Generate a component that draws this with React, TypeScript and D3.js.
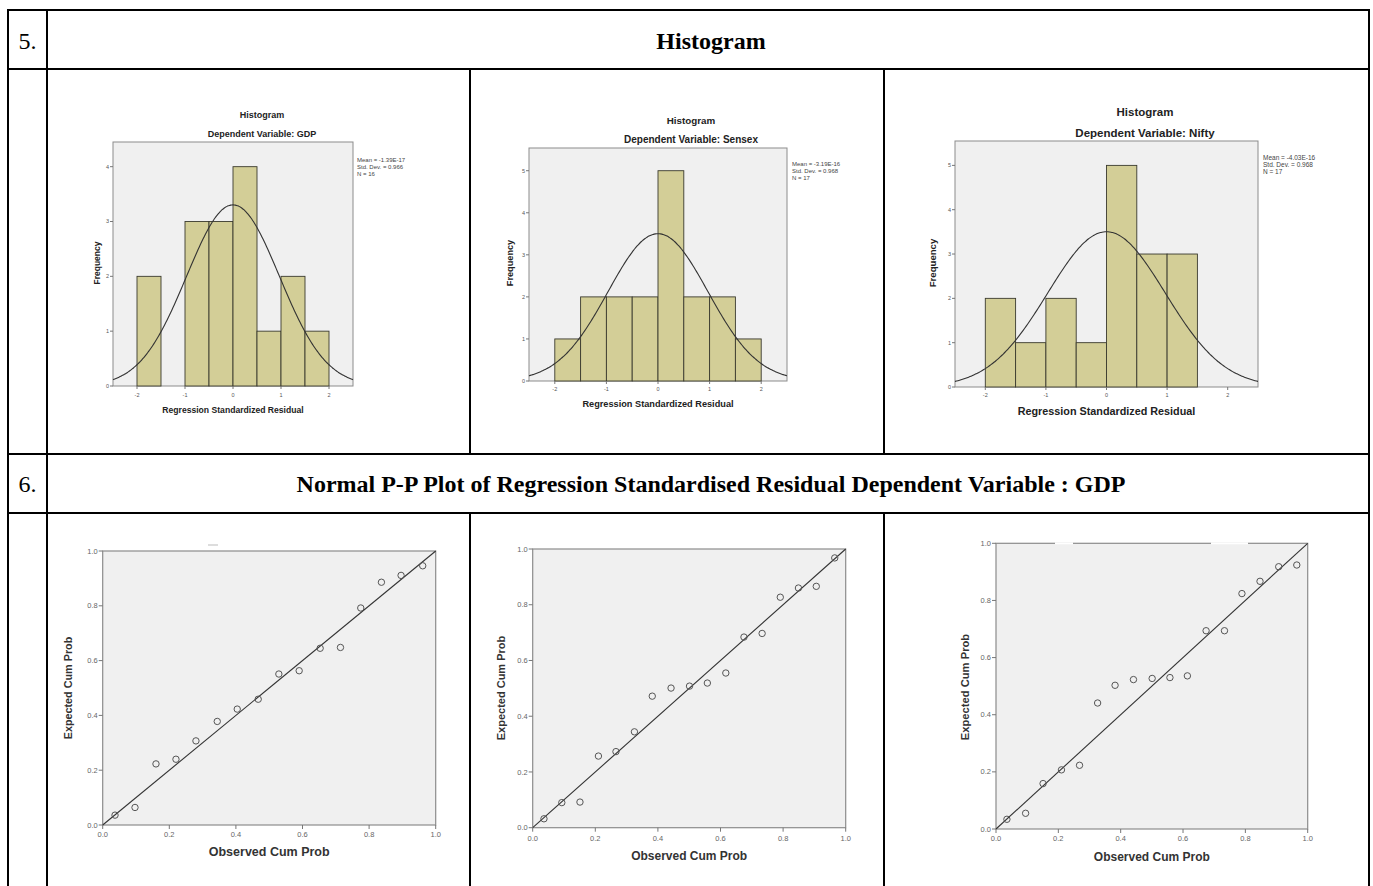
import * as d3 from "d3";

// ---- histogram data (bin width 0.5, from -2 to 2) ----
const binEdges = [-2, -1.5, -1, -0.5, 0, 0.5, 1, 1.5, 2];
const gdpCounts = [2, 0, 3, 3, 4, 1, 2, 1];
const sensexCounts = [1, 2, 2, 2, 5, 2, 2, 1];
const niftyCounts = [2, 1, 2, 1, 5, 3, 3, 0];
const residualTicks = [-2, -1, 0, 1, 2];
const freqTicksGdp = [0, 1, 2, 3, 4];
const freqTicks = [0, 1, 2, 3, 4, 5];

const gdpStats = ["Mean = -1.39E-17", "Std. Dev. = 0.966", "N = 16"];
const sensexStats = ["Mean = -3.19E-16", "Std. Dev. = 0.968", "N = 17"];
const niftyStats = ["Mean = -4.03E-16", "Std. Dev. = 0.968", "N = 17"];
const gdpMoments = [-1.39e-17, 0.966, 16];
const sensexMoments = [-3.19e-16, 0.968, 17];
const niftyMoments = [-4.03e-16, 0.968, 17];

// ---- P-P plot data ----
const ppTicks = [0, 0.2, 0.4, 0.6, 0.8, 1.0];
const gdpObserved = [0.037, 0.097, 0.16, 0.22, 0.28, 0.344, 0.404, 0.467, 0.529, 0.59, 0.653, 0.714, 0.775, 0.837, 0.896, 0.961];
const gdpExpected = [0.036, 0.064, 0.223, 0.24, 0.307, 0.378, 0.423, 0.459, 0.551, 0.563, 0.645, 0.648, 0.792, 0.886, 0.911, 0.946];
const sensexObserved = [0.036, 0.093, 0.151, 0.21, 0.266, 0.325, 0.382, 0.442, 0.501, 0.558, 0.617, 0.675, 0.733, 0.791, 0.849, 0.906, 0.965];
const sensexExpected = [0.032, 0.09, 0.092, 0.257, 0.273, 0.344, 0.472, 0.501, 0.508, 0.519, 0.555, 0.684, 0.697, 0.827, 0.86, 0.866, 0.968];
const niftyObserved = [0.035, 0.095, 0.151, 0.21, 0.268, 0.326, 0.382, 0.441, 0.501, 0.558, 0.614, 0.674, 0.733, 0.789, 0.847, 0.907, 0.965];
const niftyExpected = [0.034, 0.055, 0.159, 0.207, 0.223, 0.441, 0.503, 0.523, 0.527, 0.53, 0.536, 0.694, 0.694, 0.824, 0.867, 0.918, 0.924];

const SANS = "'Liberation Sans', Arial, sans-serif";
const SERIF = "'Liberation Serif', 'Times New Roman', serif";

function Histogram({ counts, yTicks, moments, stats, varName, lay }: any) {
  const x = d3.scaleLinear().domain([-2.5, 2.5]).range([lay.left, lay.right]);
  const y = d3.scaleLinear().domain([0, lay.yMax]).range([lay.bottom, lay.top]);
  const [mean, sd, n] = moments;
  const binW = binEdges[1] - binEdges[0];
  const curve = d3
    .line<number>()
    .x((d) => x(d))
    .y((d) => y(n * binW * (Math.exp(-0.5 * ((d - mean) / sd) ** 2) / (sd * Math.sqrt(2 * Math.PI)))))
    .curve(d3.curveBasis)(d3.range(-2.5, 2.5001, 0.025));

  return (
    <g fontFamily={SANS}>
      <text x={lay.titleX} y={lay.titleY} dy="0.35em" textAnchor="middle" fontWeight="bold" fontSize={lay.titleSize} fill="#222">Histogram</text>
      <text x={lay.titleX} y={lay.subY} dy="0.35em" textAnchor="middle" fontWeight="bold" fontSize={lay.subSize} fill="#222">{"Dependent Variable: " + varName}</text>
      <rect x={lay.left} y={lay.top} width={lay.right - lay.left} height={lay.bottom - lay.top} fill="#f0f0f0" stroke="#8c8c8c" strokeWidth={1} />
      {counts.map((c: number, i: number) =>
        c > 0 ? (
          <rect key={i} x={x(binEdges[i])} y={y(c)} width={x(binEdges[i + 1]) - x(binEdges[i])} height={y(0) - y(c)} fill="#d3ce97" stroke="#3a3a2e" strokeWidth={0.9} />
        ) : null
      )}
      <path d={curve || ""} fill="none" stroke="#333" strokeWidth={1.1} />
      {yTicks.map((t: number) => (
        <g key={"y" + t}>
          <line x1={lay.left - 3} x2={lay.left} y1={y(t)} y2={y(t)} stroke="#777" />
          <text x={lay.left - 4} y={y(t)} dy="0.35em" textAnchor="end" fontSize={5.5} fill="#555">{t}</text>
        </g>
      ))}
      {residualTicks.map((t: number) => (
        <g key={"x" + t}>
          <line x1={x(t)} x2={x(t)} y1={lay.bottom} y2={lay.bottom + 3} stroke="#777" />
          <text x={x(t)} y={lay.tickY} dy="0.35em" textAnchor="middle" fontSize={5.5} fill="#555">{t}</text>
        </g>
      ))}
      <text transform={`translate(${lay.freqX},${lay.freqY}) rotate(-90)`} dy="0.35em" textAnchor="middle" fontWeight="bold" fontSize={lay.freqSize} fill="#222">Frequency</text>
      <text x={(lay.left + lay.right) / 2} y={lay.xlabY} dy="0.35em" textAnchor="middle" fontWeight="bold" fontSize={lay.xlabSize} fill="#222">Regression Standardized Residual</text>
      {stats.map((s: string, i: number) => (
        <text key={s} x={lay.statX} y={lay.statY + i * 7} dy="0.35em" fontSize={lay.statSize} fill="#444">{s}</text>
      ))}
    </g>
  );
}

function PPPlot({ observed, expected, lay }: any) {
  const x = d3.scaleLinear().domain([0, 1]).range([lay.left, lay.right]);
  const y = d3.scaleLinear().domain([0, 1]).range([lay.bottom, lay.top]);
  const fmt = d3.format(".1f");
  return (
    <g fontFamily={SANS}>
      <rect x={lay.left} y={lay.top} width={lay.right - lay.left} height={lay.bottom - lay.top} fill="#f0f0f0" stroke="#8c8c8c" strokeWidth={1.2} />
      {lay.gaps.map((g: number[], i: number) => (
        <line key={i} x1={g[0]} x2={g[1]} y1={lay.top} y2={lay.top} stroke="#fff" strokeWidth={2} />
      ))}
      <line x1={x(0)} y1={y(0)} x2={x(1)} y2={y(1)} stroke="#333" strokeWidth={1.1} />
      {observed.map((o: number, i: number) => (
        <circle key={i} cx={x(o)} cy={y(expected[i])} r={3.2} fill="none" stroke="#555" strokeWidth={1} />
      ))}
      {ppTicks.map((t: number) => (
        <g key={"y" + t}>
          <line x1={lay.left - 4} x2={lay.left} y1={y(t)} y2={y(t)} stroke="#777" />
          <text x={lay.left - 5} y={y(t)} dy="0.35em" textAnchor="end" fontSize={7.5} fill="#666">{fmt(t)}</text>
        </g>
      ))}
      {ppTicks.map((t: number) => (
        <g key={"x" + t}>
          <line x1={x(t)} x2={x(t)} y1={lay.bottom} y2={lay.bottom + 4} stroke="#777" />
          <text x={x(t)} y={lay.tickY} dy="0.35em" textAnchor="middle" fontSize={7.5} fill="#666">{fmt(t)}</text>
        </g>
      ))}
      <text x={(lay.left + lay.right) / 2} y={lay.xlabY} dy="0.35em" textAnchor="middle" fontWeight="bold" fontSize={lay.xlabSize} fill="#333">Observed Cum Prob</text>
      <text transform={`translate(${lay.ylabX},${lay.ylabY}) rotate(-90)`} dy="0.35em" textAnchor="middle" fontWeight="bold" fontSize={lay.ylabSize} fill="#333">Expected Cum Prob</text>
    </g>
  );
}

const histLayouts = [
  { left: 113, right: 353, top: 142, bottom: 386, yMax: 4.45, titleX: 262, titleY: 115, subY: 134, titleSize: 9, subSize: 9, tickY: 395, freqX: 97, freqY: 263, freqSize: 8.5, xlabY: 410, xlabSize: 8.6, statX: 357, statY: 160, statSize: 6 },
  { left: 529, right: 787, top: 148, bottom: 381, yMax: 5.54, titleX: 691, titleY: 121, subY: 139, titleSize: 9.8, subSize: 10, tickY: 389, freqX: 510, freqY: 263, freqSize: 9.2, xlabY: 404, xlabSize: 9.2, statX: 792, statY: 164, statSize: 6 },
  { left: 955, right: 1258, top: 141, bottom: 387, yMax: 5.55, titleX: 1145, titleY: 112, subY: 133, titleSize: 11.5, subSize: 11.5, tickY: 395, freqX: 933, freqY: 263, freqSize: 9.6, xlabY: 411, xlabSize: 10.8, statX: 1263, statY: 158, statSize: 6.5 },
];

const ppLayouts = [
  { left: 102.7, right: 435.7, top: 551, bottom: 825, tickY: 834, xlabY: 852, xlabSize: 12.5, ylabX: 68, ylabY: 688, ylabSize: 10.8, gaps: [] },
  { left: 532.7, right: 845.7, top: 549, bottom: 827.7, tickY: 838, xlabY: 856, xlabSize: 12, ylabX: 501, ylabY: 688, ylabSize: 11, gaps: [] },
  { left: 996, right: 1307.7, top: 543.3, bottom: 829, tickY: 838, xlabY: 857, xlabSize: 12, ylabX: 965, ylabY: 687, ylabSize: 11.2, gaps: [[1055, 1073], [1211, 1248]] },
];

export default function App() {
  const W = 1373, H = 886;
  const colX = [8, 47, 470, 884, 1369];
  const rowY = [10, 69, 454, 513];
  return (
    <svg width={W} height={H} style={{ position: "absolute", left: 0, top: 0, background: "#fff" }}>
      <rect x={0} y={0} width={W} height={H} fill="#fff" />
      <Histogram counts={gdpCounts} yTicks={freqTicksGdp} moments={gdpMoments} stats={gdpStats} varName="GDP" lay={histLayouts[0]} />
      <Histogram counts={sensexCounts} yTicks={freqTicks} moments={sensexMoments} stats={sensexStats} varName="Sensex" lay={histLayouts[1]} />
      <Histogram counts={niftyCounts} yTicks={freqTicks} moments={niftyMoments} stats={niftyStats} varName="Nifty" lay={histLayouts[2]} />
      <PPPlot observed={gdpObserved} expected={gdpExpected} lay={ppLayouts[0]} />
      <PPPlot observed={sensexObserved} expected={sensexExpected} lay={ppLayouts[1]} />
      <PPPlot observed={niftyObserved} expected={niftyExpected} lay={ppLayouts[2]} />
      <line x1={208} x2={218} y1={545} y2={545} stroke="#bbb" strokeWidth={1} />

      {/* table grid */}
      <g stroke="#000" strokeWidth={2} fill="none">
        <line x1={colX[0]} x2={colX[4]} y1={rowY[0]} y2={rowY[0]} />
        <line x1={colX[0]} x2={colX[4]} y1={rowY[1]} y2={rowY[1]} />
        <line x1={colX[0]} x2={colX[4]} y1={rowY[2]} y2={rowY[2]} />
        <line x1={colX[0]} x2={colX[4]} y1={rowY[3]} y2={rowY[3]} />
        <line x1={colX[0]} x2={colX[0]} y1={rowY[0] - 1} y2={H + 2} />
        <line x1={colX[1]} x2={colX[1]} y1={rowY[0] - 1} y2={H + 2} />
        <line x1={colX[4]} x2={colX[4]} y1={rowY[0] - 1} y2={H + 2} />
        <line x1={colX[2]} x2={colX[2]} y1={rowY[1]} y2={rowY[2]} />
        <line x1={colX[3]} x2={colX[3]} y1={rowY[1]} y2={rowY[2]} />
        <line x1={colX[2]} x2={colX[2]} y1={rowY[3]} y2={H + 2} />
        <line x1={colX[3]} x2={colX[3]} y1={rowY[3]} y2={H + 2} />
      </g>
      <g fontFamily={SERIF} fontSize={24} fill="#000">
        <text x={27.5} y={49} textAnchor="middle">5.</text>
        <text x={27.5} y={492} textAnchor="middle">6.</text>
        <text x={711} y={49} textAnchor="middle" fontWeight="bold">Histogram</text>
        <text x={711} y={492} textAnchor="middle" fontWeight="bold">Normal P-P Plot of Regression Standardised Residual Dependent Variable : GDP</text>
      </g>
    </svg>
  );
}
